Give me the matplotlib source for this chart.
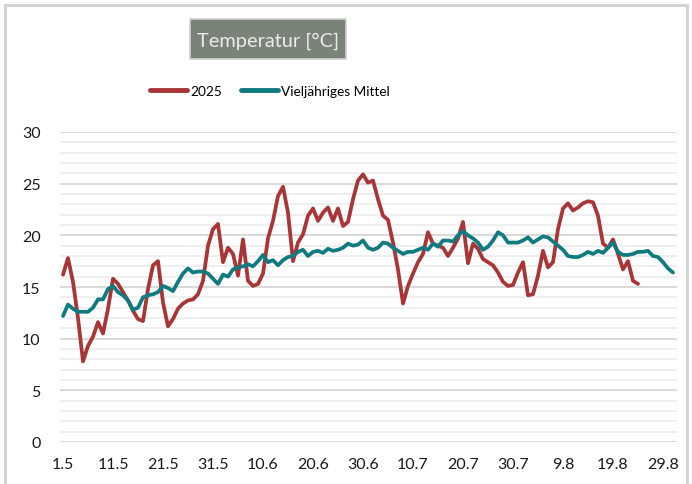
import matplotlib
matplotlib.use('Agg')
import matplotlib.pyplot as plt
from matplotlib.patches import Rectangle
from matplotlib.lines import Line2D
from matplotlib import font_manager
import numpy as np

# ---------------- data ----------------
day_labels = ['1.5', '11.5', '21.5', '31.5', '10.6', '20.6', '30.6',
              '10.7', '20.7', '30.7', '9.8', '19.8', '29.8']

temp_2025 = [16.2, 17.8, 15.5, 12.0, 7.8, 9.3, 10.2, 11.6, 10.5, 12.9,
             15.8, 15.3, 14.5, 13.7, 12.7, 11.9, 11.7, 14.8, 17.1, 17.5,
             13.5, 11.2, 11.9, 12.9, 13.4, 13.7, 13.8, 14.3, 15.6, 19.0,
             20.6, 21.1, 17.4, 18.8, 18.2, 16.1, 19.6, 15.6, 15.1, 15.3,
             16.3, 19.7, 21.4, 23.8, 24.7, 22.2, 17.5, 19.3, 20.1, 21.9,
             22.6, 21.4, 22.2, 22.7, 21.4, 22.6, 20.9, 21.3, 23.5, 25.3,
             25.9, 25.1, 25.3, 23.5, 21.9, 21.5, 19.3, 16.7, 13.4, 15.1,
             16.3, 17.4, 18.2, 20.3, 19.2, 19.0, 18.8, 18.0, 18.8, 19.7,
             21.3, 17.3, 19.2, 18.7, 17.7, 17.4, 17.1, 16.4, 15.5, 15.1,
             15.2, 16.4, 17.4, 14.2, 14.3, 16.1, 18.5, 16.9, 17.4, 20.6,
             22.6, 23.1, 22.4, 22.7, 23.1, 23.3, 23.2, 21.9, 19.2, 18.8,
             19.6, 18.2, 16.7, 17.5, 15.6, 15.3]

temp_mittel = [12.2, 13.3, 12.9, 12.6, 12.6, 12.6, 13.0, 13.8, 13.8, 14.8,
               15.1, 14.5, 14.2, 13.7, 12.8, 13.0, 14.0, 14.2, 14.3, 14.5,
               15.1, 14.9, 14.6, 15.5, 16.3, 16.8, 16.4, 16.5, 16.5, 16.3,
               15.8, 15.3, 16.2, 16.0, 16.7, 16.9, 17.0, 17.2, 17.0, 17.5,
               18.1, 17.4, 17.6, 17.1, 17.6, 17.9, 18.0, 18.4, 18.6, 18.0,
               18.4, 18.5, 18.3, 18.7, 18.5, 18.6, 18.8, 19.2, 19.0, 19.1,
               19.5, 18.8, 18.6, 18.8, 19.3, 19.2, 18.8, 18.5, 18.2, 18.4,
               18.4, 18.6, 18.8, 18.6, 19.2, 18.9, 19.5, 19.5, 19.4, 20.0,
               20.4, 20.0, 19.7, 19.3, 18.6, 18.9, 19.5, 20.3, 20.0, 19.3,
               19.3, 19.3, 19.5, 19.8, 19.3, 19.6, 19.9, 19.8, 19.4, 19.0,
               18.6, 18.0, 17.9, 17.9, 18.1, 18.4, 18.2, 18.5, 18.3, 18.8,
               19.3, 18.4, 18.1, 18.1, 18.2, 18.4, 18.4, 18.5, 18.0, 17.9,
               17.4, 16.8, 16.4]

series_names = ['2025', 'Vieljähriges Mittel']
title_text = 'Temperatur [°C]'

# ---------------- style ----------------
RED = '#a93536'
TEAL = '#0f7b81'
FONT = ['Lato', 'DejaVu Sans']
plt.rcParams['font.family'] = FONT

installed = {f.name for f in font_manager.fontManager.ttflist}
if 'Liberation Sans Narrow' in installed:
    NARROW = ['Liberation Sans Narrow', 'DejaVu Sans']
    title_size, legend_size = 17, 12
else:
    NARROW = FONT
    title_size, legend_size = 14.4, 9.8

W, H = 692, 485
fig = plt.figure(figsize=(W / 100, H / 100), dpi=100)

# outer frame
fig.patches.append(Rectangle((5 / W, -0.05), 682 / W, 1.05 - 6 / H,
                             transform=fig.transFigure, fill=False,
                             ec='#d2d2d2', lw=2.0, zorder=0))

ax = fig.add_axes([60 / W, 1 - 443 / H, 617 / W, 310 / H])

x_r = np.arange(len(temp_2025))
x_m = np.arange(len(temp_mittel))
ax.plot(x_r, temp_2025, color=RED, lw=2.7, solid_joinstyle='round',
        solid_capstyle='round', zorder=3)
ax.plot(x_m, temp_mittel, color=TEAL, lw=2.7, solid_joinstyle='round',
        solid_capstyle='round', zorder=4)

ax.set_xlim(-0.6, 122.8)
ax.set_ylim(0, 30)
ax.set_yticks(range(0, 31, 5))
ax.set_yticks(range(0, 31, 1), minor=True)
ax.set_xticks(range(0, 10 * len(day_labels), 10))
ax.set_xticklabels(day_labels)
ax.grid(True, which='major', axis='y', color='#d9d9d9', lw=1.4)
ax.grid(True, which='minor', axis='y', color='#efefef', lw=1.4)
ax.set_axisbelow(True)
for s in ax.spines.values():
    s.set_visible(False)
ax.tick_params(axis='both', which='both', length=0, labelsize=11.5,
               labelcolor='#1a1a1a')
ax.tick_params(axis='x', pad=11)
ax.tick_params(axis='y', pad=14)

# title box
fig.patches.append(Rectangle((190 / W, 1 - 60 / H), 156 / W, 40 / H,
                             transform=fig.transFigure, fc='#7a8377',
                             ec='#d0d0d0', lw=1.2, zorder=1))
fig.text(268 / W, 1 - 41 / H, title_text, ha='center', va='center',
         fontsize=title_size, color='#ebebeb', family=NARROW, zorder=2)

# legend
handles = [Line2D([0], [0], color=RED, lw=3.5, solid_capstyle='round'),
           Line2D([0], [0], color=TEAL, lw=3.5, solid_capstyle='round')]
fig.legend(handles, series_names, loc='center', ncol=2,
           bbox_to_anchor=(270 / W, 1 - 92 / H), frameon=False,
           prop={'family': NARROW, 'size': legend_size},
           handlelength=2.4 * 11 / legend_size, handletextpad=0.25,
           columnspacing=1.4, borderaxespad=0)

fig.savefig('out.png', dpi=100)
